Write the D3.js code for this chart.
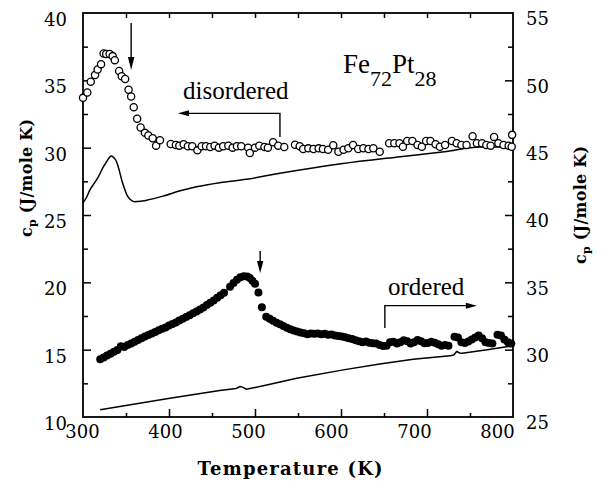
<!DOCTYPE html>
<html><head><meta charset="utf-8">
<script src="https://cdn.jsdelivr.net/npm/d3@7"></script>
<style>body{margin:0;background:#fff}</style>
</head><body><svg id="c" width="602" height="487"></svg>
<script>
// Disordered (open circles), left axis units
const disT  = [300,305,309,314,317,321,324,327,331,334.5,337,342,345,349,353,356,359,363,367,372,376,381,385,389.5,402,408,412,417,422,427,433,438,443,448,453,458,463,469,474,479,484,492,494,500,505,511,515,521,527,534,546.5,552,556,562,568,574,579,585,591,597,603,608.5,614,620,626,632,637.6,645,656,662,668,672,677,683,689,694,699,704,710,715,721,729,734.5,740,746,753,758,764,769,774,778,783,789,795,799,798.5];
const disCp = [33.7,34.1,34.9,35.4,35.8,36.2,37.0,36.95,36.95,36.8,36.5,35.7,35.3,35.1,34.3,33.8,33.0,32.15,31.5,31.1,30.9,30.7,30.15,30.55,30.27,30.2,30.15,30.25,30.1,30.1,29.8,30.1,30.1,30.05,30.15,30.0,30.1,30.15,30.0,30.1,30.1,30.0,29.6,30.0,30.15,30.05,30.0,30.4,30.15,30.05,30.22,30.1,29.9,29.95,29.9,29.95,29.9,29.85,30.18,29.7,29.85,29.96,30.2,29.9,29.96,29.9,29.96,29.7,30.33,30.33,30.33,30.07,30.5,30.5,30.2,30.07,30.5,30.5,30.25,30.07,30.2,30.5,30.33,30.2,30.2,30.85,30.33,30.33,30.2,30.15,30.8,30.33,30.2,30.15,30.95,30.07];
// Disordered solid curve, left axis units
const disLineT  = [300,304,308,313,318,323,327.5,331,333,336,339,342,345,348,351,355,360,367,374,393,413,432,459,490,529,552,600,669,720,762,780,800];
const disLineCp = [25.9,26.3,26.86,27.35,27.85,28.5,28.96,29.3,29.38,29.25,28.96,28.35,27.6,27.0,26.49,26.15,25.99,26.02,26.1,26.4,26.8,27.1,27.4,27.65,28.1,28.34,28.8,29.33,29.7,30.05,30.05,30.05];
// Ordered (filled circles), right axis units
const ordT  = [320,324,328,332,336,340,344,348,352,356,360,364,368,372,376,380,384,388,392,396,400,404,408,412,416,420,424,428,432,436,440,444,448,452,456,460,464,
  471,475,479,483,487,491,494,497,500,504,508,513,517,521,525,529,533,537,541,545,549,553,557,561,565,569,573,577,581,585,589,593,597,601,605,609,613,617,621,625,629,633,637,641,645,649,653,657,661,665,669,673,677,681,685,689,693,697,701,705,709,713,717,721,725,732,736,740,744,748,752,756,760,764,768,772,776,782,786,790,794,798];
const ordCp = [29.28,29.42,29.56,29.70,29.84,29.98,30.25,30.20,30.34,30.46,30.58,30.72,30.85,30.97,31.08,31.20,31.32,31.44,31.55,31.64,31.80,31.90,32.02,32.16,32.30,32.42,32.56,32.70,32.84,32.98,33.14,33.32,33.48,33.66,33.86,34.05,34.22,
  34.68,34.95,35.20,35.38,35.46,35.44,35.32,35.12,34.90,34.24,33.15,32.45,32.30,32.15,32.00,31.88,31.75,31.62,31.52,31.42,31.34,31.28,31.22,31.15,31.20,31.18,31.20,31.15,31.18,31.10,31.12,31.05,31.02,30.98,30.92,30.85,30.80,30.70,30.62,30.55,30.60,30.52,30.48,30.45,30.35,30.28,30.30,30.55,30.58,30.45,30.55,30.70,30.62,30.45,30.55,30.72,30.62,30.48,30.50,30.58,30.52,30.40,30.30,30.35,30.30,30.95,30.90,30.55,30.50,30.60,30.75,30.90,31.05,30.85,30.55,30.50,30.45,31.10,31.05,30.75,30.55,30.45];
// Ordered solid curve, right axis units
const ordLineT  = [320,401,459,478,482.6,486,490,513.6,548.5,602.7,645,684,726.7,731,734.5,738,741,770,800];
const ordLineCp = [25.53,26.4,26.96,27.12,27.26,27.2,27.06,27.38,27.88,28.5,28.94,29.29,29.54,29.6,29.86,29.75,29.74,30.0,30.28];

const xTicks = [300,400,500,600,700,800];
const xMinor = [350,450,550,650,750];
const yLeftTicks = [10,15,20,25,30,35,40];
const yLeftMinor = [12.5,17.5,22.5,27.5,32.5,37.5];
const yRightTicks = [25,30,35,40,45,50,55];
const yRightMinor = [27.5,32.5,37.5,42.5,47.5,52.5];

const L=83, R=513, T=13, B=417;
const svg = d3.select('#c');
const x = d3.scaleLinear().domain([300,800]).range([L,R]);
const xLab = d3.scaleLinear().domain([300,800]).range([82,497]);
const yL = d3.scaleLinear().domain([10,40]).range([B,T]);
const yR = d3.scaleLinear().domain([25,55]).range([B,T]);

function styleAxis(g){ g.select('.domain').remove(); g.selectAll('line').attr('stroke','#000').attr('stroke-width',1.5); }
svg.append('g').attr('transform',`translate(0,${B})`).call(d3.axisTop(x).tickValues(xTicks.slice(1,-1)).tickSize(8).tickFormat('')).call(styleAxis);
svg.append('g').attr('transform',`translate(0,${B})`).call(d3.axisTop(x).tickValues(xMinor).tickSize(4).tickFormat('')).call(styleAxis);
svg.append('g').attr('transform',`translate(0,${T})`).call(d3.axisBottom(x).tickValues(xTicks.slice(1,-1).concat(xMinor)).tickSize(5).tickFormat('')).call(styleAxis);
svg.append('g').attr('transform',`translate(${L},0)`).call(d3.axisRight(yL).tickValues(yLeftTicks.slice(1,-1)).tickSize(8).tickFormat('')).call(styleAxis);
svg.append('g').attr('transform',`translate(${L},0)`).call(d3.axisRight(yL).tickValues(yLeftMinor).tickSize(5).tickFormat('')).call(styleAxis);
svg.append('g').attr('transform',`translate(${R},0)`).call(d3.axisLeft(yR).tickValues(yRightTicks.slice(1,-1)).tickSize(8).tickFormat('')).call(styleAxis);
svg.append('g').attr('transform',`translate(${R},0)`).call(d3.axisLeft(yR).tickValues(yRightMinor).tickSize(5).tickFormat('')).call(styleAxis);

function styleLabels(g){ g.select('.domain').remove(); g.selectAll('line').remove(); g.selectAll('text').attr('font-family','"DejaVu Serif"').attr('font-size',18).attr('fill','#000'); }
svg.append('g').attr('transform',`translate(0,${B})`).call(d3.axisBottom(xLab).tickValues(xTicks).tickSize(0).tickPadding(8).tickFormat(d3.format('d'))).call(styleLabels);
svg.append('g').attr('transform',`translate(${L},0)`).call(d3.axisLeft(yL).tickValues(yLeftTicks).tickSize(0).tickPadding(16).tickFormat(d3.format('d'))).call(styleLabels)
  .selectAll('text').attr('dy','0.7em');
svg.append('g').attr('transform',`translate(${R},0)`).call(d3.axisRight(yR).tickValues(yRightTicks).tickSize(0).tickPadding(13).tickFormat(d3.format('d'))).call(styleLabels)
  .selectAll('text').attr('dy','0.65em');

svg.append('rect').attr('x',L).attr('y',T).attr('width',R-L).attr('height',B-T).attr('fill','none').attr('stroke','#000').attr('stroke-width',1.8);

const lineL = d3.line().x(i=>x(disLineT[i])).y(i=>yL(disLineCp[i])).curve(d3.curveMonotoneX);
svg.append('path').attr('d',lineL(d3.range(disLineT.length))).attr('fill','none').attr('stroke','#000').attr('stroke-width',1.5);
const lineR = d3.line().x(i=>x(ordLineT[i])).y(i=>yR(ordLineCp[i]));
svg.append('path').attr('d',lineR(d3.range(ordLineT.length))).attr('fill','none').attr('stroke','#000').attr('stroke-width',1.5);

svg.append('g').selectAll('circle').data(d3.range(ordT.length)).join('circle')
  .attr('cx',i=>x(ordT[i])).attr('cy',i=>yR(ordCp[i])).attr('r',4).attr('fill','#000');
svg.append('g').selectAll('circle').data(d3.range(disT.length)).join('circle')
  .attr('cx',i=>x(disT[i])).attr('cy',i=>yL(disCp[i])).attr('r',3.6).attr('fill','#fff').attr('stroke','#000').attr('stroke-width',1.3);

function arrowHead(px,py,dx,dy,len,hw){
  const ux=dx/Math.hypot(dx,dy), uy=dy/Math.hypot(dx,dy);
  const bx=px-ux*len, by=py-uy*len;
  svg.append('path').attr('d',`M${px},${py}L${bx-uy*hw},${by+ux*hw}L${bx+uy*hw},${by-ux*hw}Z`).attr('fill','#000');
}
function seg(pts){ svg.append('path').attr('d',d3.line()(pts)).attr('fill','none').attr('stroke','#000').attr('stroke-width',1.4); }
seg([[x(356),yL(39.26)],[x(356),yL(36.2)]]); arrowHead(x(356),yL(35.77),0,1,13,3.2);
seg([[x(506),yR(37.33)],[x(506),yR(36.1)]]); arrowHead(x(506),yR(35.7),0,1,12,3.2);
seg([[x(529),yL(30.8)],[x(529),yL(32.55)],[x(416),yL(32.55)]]); arrowHead(x(410.5),yL(32.55),-1,0,11,3);
seg([[x(651),yR(31.6)],[x(651),yR(33.27)],[x(752),yR(33.27)]]); arrowHead(x(758),yR(33.27),1,0,11,3);

const serif='"Liberation Serif","Times New Roman",serif';
svg.append('text').attr('x',183).attr('y',99).attr('font-family',serif).attr('font-size',25).text('disordered');
svg.append('text').attr('x',388).attr('y',295).attr('font-family',serif).attr('font-size',25).text('ordered');
const fe = svg.append('text').attr('x',343).attr('y',73).attr('font-family',serif).attr('font-size',27);
fe.append('tspan').text('Fe');
fe.append('tspan').attr('dy',13).attr('font-size',22).text('72');
fe.append('tspan').attr('dy',-13).text('Pt');
fe.append('tspan').attr('dy',13).attr('font-size',22).text('28');

const slab='"DejaVu Serif",serif';
svg.append('text').attr('x',290).attr('y',475).attr('text-anchor','middle').attr('font-family',slab).attr('font-weight','bold').attr('font-size',18)
  .attr('textLength',185).attr('lengthAdjust','spacing').text('Temperature (K)');
function yTitle(cx,cy){
  const t = svg.append('text').attr('transform',`translate(${cx},${cy}) rotate(-90)`).attr('text-anchor','middle')
    .attr('font-family',slab).attr('font-weight','bold').attr('font-size',16).attr('textLength',118).attr('lengthAdjust','spacing');
  t.append('tspan').text('c');
  t.append('tspan').attr('font-size',11).attr('dy',4).text('p');
  t.append('tspan').attr('dy',-4).text(' (J/mole K)');
}
yTitle(32,178);
yTitle(586,205);
</script></body></html>
